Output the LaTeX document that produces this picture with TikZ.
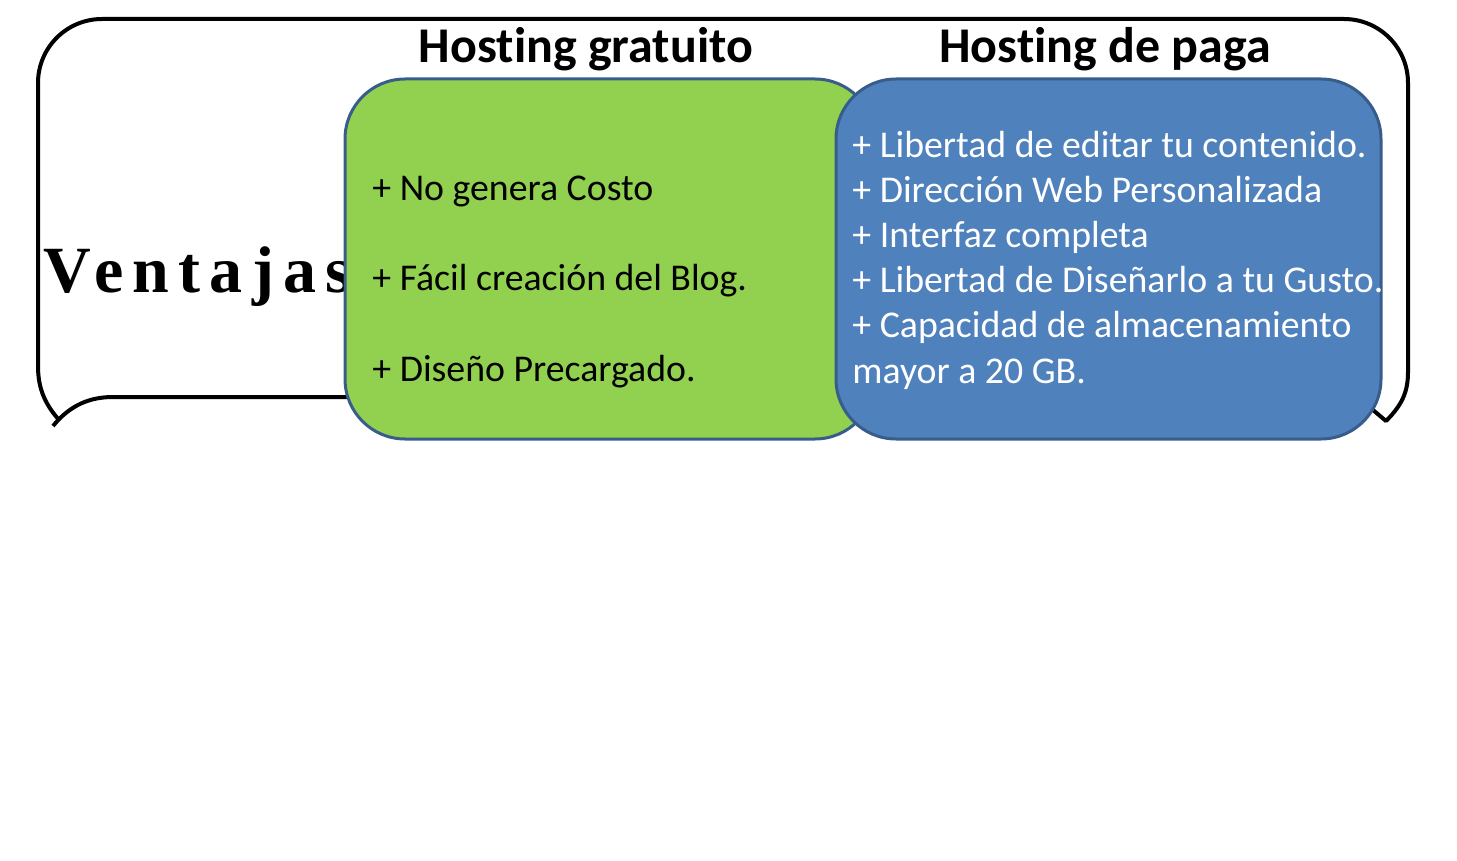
\documentclass[tikz,border=0pt]{standalone}
\usepackage{fontspec}
\setmainfont{Carlito}[Ligatures=NoCommon]
\newfontfamily\ventfont{Liberation Serif}
\usetikzlibrary{positioning,calc}
\definecolor{hostgreen}{HTML}{92D050}
\definecolor{hostblue}{HTML}{4F81BD}
\definecolor{hostedge}{HTML}{385D8A}

\begin{document}
\begin{tikzpicture}[x=0.5pt,y=-0.5pt, line join=round]
  \tikzstyle{hbox}=[draw=hostedge,line width=1.5pt,rounded corners=30pt]
  \tikzstyle{head}=[font=\fontsize{25}{28}\selectfont\bfseries,inner sep=0pt,anchor=base]
  \tikzstyle{item}=[font=\fontsize{18.9}{22}\selectfont,inner sep=0pt,anchor=base west]
  \useasboundingbox (0,0) rectangle (1457,861);
  % outer frame
  \draw[line width=2pt] (1373,410) -- (1386,421) .. controls (1402,405) and (1408,392) .. (1408,372)
    -- (1408,83) arc[start angle=0,end angle=90,radius=32pt] -- (102,19)
    arc[start angle=90,end angle=180,radius=32pt] -- (38,366)
    .. controls (38,390) and (46,405) .. (59,420);
  \draw[line width=2pt] (53,426) .. controls (70,405) and (90,397) .. (113,397) -- (400,397);
  \node[font=\fontsize{33}{36}\selectfont\ventfont\bfseries\addfontfeature{LetterSpace=14},inner sep=0pt,anchor=base west] (vent) at (43,293) {Ventajas};
  % boxes
  \draw[hbox,fill=hostgreen] (345,79) rectangle (875,439);
  \draw[hbox,fill=hostblue] (836,79) rectangle (1381,439);
  \node[head] (hgrat) at (586,63) {Hosting gratuito};
  \node[head] (hpaga) at (1105,63) {Hosting de paga};
  % free hosting
  \node[item] (g1) at (372,201) {+ No genera Costo};
  \node[item] (g2) at (372,291) {+ Fácil creación del Blog.};
  \node[item] (g3) at (372,381) {+ Diseño Precargado.};
  % paid hosting
  \foreach \t [count=\i] in {+ Libertad de editar tu contenido.,+ Dirección Web Personalizada,+ Interfaz completa,+ Libertad de Diseñarlo a tu Gusto.,+ Capacidad de almacenamiento,mayor a 20 GB.}
    \node[item,text=white] (p\i) at (852,113+45*\i) {\t};
\end{tikzpicture}
\end{document}
